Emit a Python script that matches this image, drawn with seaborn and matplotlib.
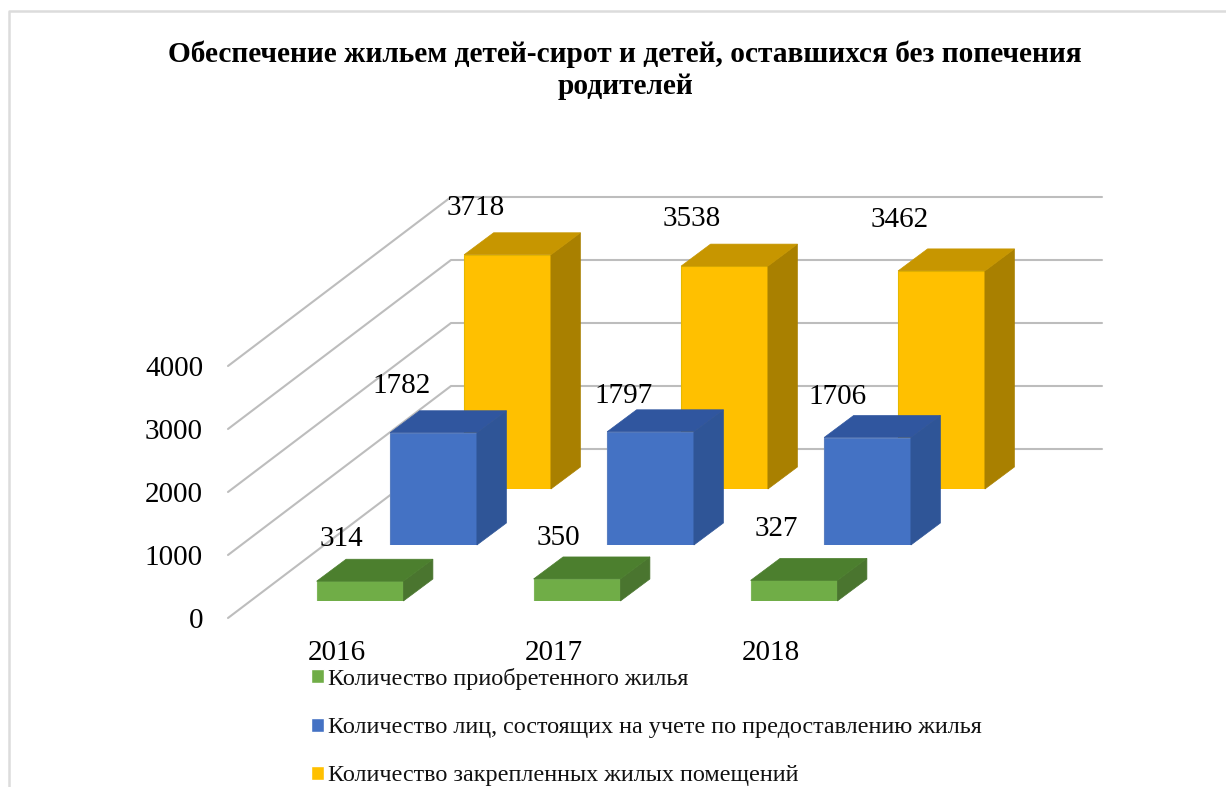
# 3D looking bar chart: housing for orphans, three series per year
import matplotlib
matplotlib.use('Agg')
import matplotlib.pyplot as plt
from matplotlib.lines import Line2D
from matplotlib.patches import Patch, Polygon
import seaborn as sns

years = ['2016', '2017', '2018']
acquired = [314, 350, 327]
registered = [1782, 1797, 1706]
assigned = [3718, 3538, 3462]
axis_ticks = [0, 1000, 2000, 3000, 4000]

acquired_name = 'Количество приобретенного жилья'
registered_name = 'Количество лиц, состоящих на учете по предоставлению жилья'
assigned_name = 'Количество закрепленных жилых помещений'
title = 'Обеспечение жильем детей-сирот и детей, оставшихся без попечения\nродителей'

W, H = 1226, 787
PX_PER_CAT = 217
AX_H = 252  # pixels for 0..4000
# size of the bar depth and of the floor, in data units
BAR_DX, BAR_DY = 29.5 / PX_PER_CAT, 22 / AX_H * 4000
FLOOR_DX, FLOOR_DY = 223 / PX_PER_CAT, 169 / AX_H * 4000

sns.set_theme(style='white')
plt.rcParams['font.family'] = ['Liberation Serif', 'DejaVu Serif']

fig = plt.figure(figsize=(W / 100, H / 100), dpi=100, facecolor='white')


def add_axes(left, base):
    # left and base are pixels measured from the top left corner of the image
    ax = fig.add_axes([left / W, (H - base) / H, PX_PER_CAT * 3 / W, AX_H / H])
    ax.patch.set_alpha(0)
    return ax


def draw_series(ax, values, front, side, top, edge, shifts):
    sns.barplot(x=years, y=values, color=front, saturation=1, width=0.4, ax=ax,
                edgecolor=edge, linewidth=0.8)
    for bar, value, shift in zip(ax.patches, values, shifts):
        x0, x1 = bar.get_x(), bar.get_x() + bar.get_width()
        # side and top faces are built from the bar seaborn drew
        ax.add_patch(Polygon([(x1, 0), (x1 + BAR_DX, BAR_DY), (x1 + BAR_DX, value + BAR_DY), (x1, value)],
                             facecolor=side, edgecolor=side, linewidth=0.5, clip_on=False))
        ax.add_patch(Polygon([(x0, value), (x1, value), (x1 + BAR_DX, value + BAR_DY), (x0 + BAR_DX, value + BAR_DY)],
                             facecolor=top, edgecolor=top, linewidth=0.5, clip_on=False))
        ax.annotate(str(value), ((x0 + x1) / 2, value + BAR_DY), xytext=shift, textcoords='offset pixels',
                    ha='center', va='center', fontsize=21, color='black', annotation_clip=False)
    ax.set_xlim(-0.5, 2.5)
    ax.set_ylim(0, 4000)
    ax.axis('off')


# Back wall and the floor lines
ax_back = add_axes(451, 449)
ax_back.set_xlim(-0.5, 2.5)
ax_back.set_ylim(0, 4000)
ax_back.axis('off')
for tick in axis_ticks:
    front_x, front_y = -0.5 - FLOOR_DX, tick - FLOOR_DY
    ax_back.plot([front_x, -0.5, 2.5], [front_y, tick, tick], color='#BDBDBD', linewidth=1.5, clip_on=False)
    ax_back.annotate(str(tick), (front_x, front_y), xytext=(-25, -3), textcoords='offset pixels',
                     ha='right', va='center', fontsize=21, color='black', annotation_clip=False)

# Each series has its own axes, moved forward along the floor
ax_assigned = add_axes(399, 489)
ax_registered = add_axes(325, 545)
ax_acquired = add_axes(251.5, 601)

draw_series(ax_assigned, assigned, '#FFC000', '#A98000', '#C79600', '#E6B800',
            [(-32, 25), (-33, 25), (-42, 29)])
draw_series(ax_registered, registered, '#4472C4', '#2F5597', '#30569F', '#5A7FC0',
            [(-32, 25), (-27, 14), (-30, 19)])
draw_series(ax_acquired, acquired, '#70AD47', '#4A752F', '#4C7F2E', '#7FB65A',
            [(-19, 20), (-19, 19), (-18, 29)])

for i, year in enumerate(years):
    ax_acquired.annotate(year, (i, 0), xytext=(-23, -52), textcoords='offset pixels', ha='center', va='center',
                         fontsize=21, color='black', annotation_clip=False)

fig.text(625 / W, 1 - 70.5 / H, title, ha='center', va='center', fontsize=21.2, fontweight='bold',
         color='black', linespacing=1.25)

# Legend rows
handles = [Patch(facecolor='#70AD47', label=acquired_name),
           Patch(facecolor='#4472C4', label=registered_name),
           Patch(facecolor='#FFC000', label=assigned_name)]
fig.legend(handles=handles, loc='upper left', bbox_to_anchor=(311 / W, 1 - 668 / H), frameon=False,
           fontsize=17.35, handlelength=0.52, handleheight=0.52, handletextpad=0.19, labelspacing=1.13,
           borderpad=0, borderaxespad=0, labelcolor='#111111')

# Chart frame: top and left edges only, the rest runs off the image
frame_x, frame_y = 9 / W, 1 - 10.5 / H
fig.add_artist(Line2D([frame_x, frame_x, 1], [0, frame_y, frame_y], transform=fig.transFigure,
                      color='#DCDCDC', linewidth=1.8))

plt.savefig('out.png', dpi=100)
